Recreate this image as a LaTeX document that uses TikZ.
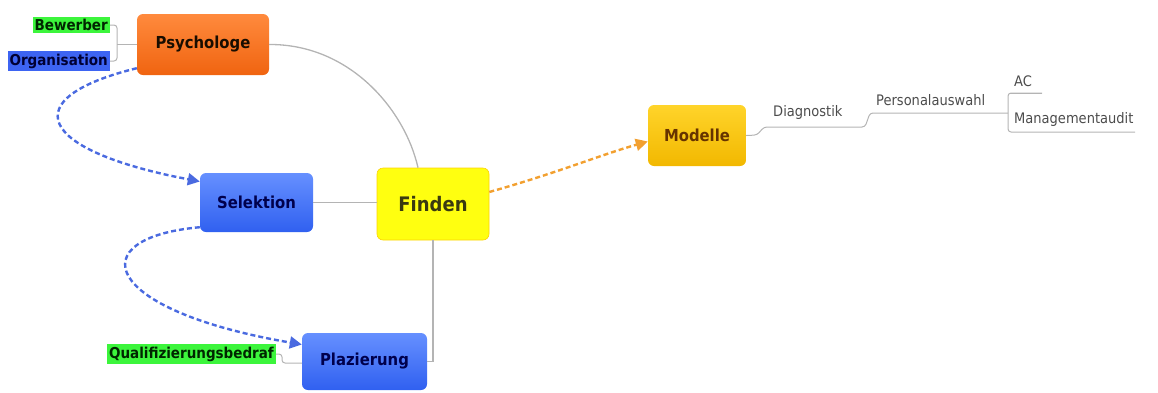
\documentclass[tikz,border=0pt]{standalone}
\usepackage{fontspec}
\setmainfont{DejaVu Sans Condensed}
\usetikzlibrary{arrows.meta}
\definecolor{orTop}{HTML}{FF8A3D}
\definecolor{orBot}{HTML}{F06410}
\definecolor{blTop}{HTML}{6690FF}
\definecolor{blBot}{HTML}{3060F0}
\definecolor{goTop}{HTML}{FFD42A}
\definecolor{goBot}{HTML}{F2B800}
\definecolor{yel}{HTML}{FFFF10}
\definecolor{tagGreen}{HTML}{3CF53C}
\definecolor{tagBlue}{HTML}{3D64F2}
\definecolor{linkGray}{HTML}{B4B4B4}
\definecolor{dashBlue}{HTML}{4A6AE0}
\definecolor{dashOrange}{HTML}{F2A030}
\definecolor{oliveText}{HTML}{3A3A10}
\tikzset{
  topic/.style={rounded corners=6pt, font=\bfseries\fontsize{16.5}{18}\selectfont, align=center, inner sep=0pt},
  orangebox/.style={topic, top color=orTop, bottom color=orBot, text=black!75!orange!40!black},
  bluebox/.style={topic, top color=blTop, bottom color=blBot, text=blue!30!black},
  goldbox/.style={topic, top color=goTop, bottom color=goBot, text=orange!40!black},
  centerbox/.style={topic, fill=yel, draw=yellow!70!orange, line width=0.6pt, font=\bfseries\fontsize{20}{22}\selectfont, text=oliveText},
  greentag/.style={fill=tagGreen, inner xsep=2pt, inner ysep=2.5pt, font=\bfseries\fontsize{15}{17}\selectfont, text=green!15!black},
  bluetag/.style={fill=tagBlue, inner xsep=2pt, inner ysep=2.5pt, font=\bfseries\fontsize{15}{17}\selectfont, text=blue!20!black},
  plain/.style={inner sep=1pt, font=\fontsize{14.5}{16}\selectfont, text=black!70},
  link/.style={draw=linkGray, line width=1.3pt},
  sublink/.style={draw=linkGray, line width=1pt, rounded corners=3pt},
  flow/.style={line width=2.4pt, dash pattern=on 5pt off 3pt, -{Triangle[length=12pt,width=12pt]}},
}
\begin{document}
\begin{tikzpicture}[x=1pt,y=-1pt]
\useasboundingbox (0,0) rectangle (1158,392);

% main topics
\node[orangebox, minimum width=132pt, minimum height=61pt] (psy) at (203,44.5) {Psychologe};
\node[bluebox, minimum width=113pt, minimum height=59pt] (sel) at (256.5,202.5) {Selektion};
\node[centerbox, minimum width=112pt, minimum height=72pt] (fin) at (433,204) {Finden};
\node[bluebox, minimum width=125pt, minimum height=57pt] (plz) at (364.5,361.5) {Plazierung};
\node[goldbox, minimum width=98pt, minimum height=61pt] (mod) at (697,135.5) {Modelle};

% tags
\node[greentag, anchor=east] (bew) at (110,25) {Bewerber};
\node[bluetag, anchor=east] (org) at (110,61) {Organisation};
\node[greentag, anchor=east] (qual) at (276,354) {Qualifizierungsbedraf};

% text branches
\node[plain, anchor=south west] (diag) at (772,121) {Diagnostik};
\node[plain, anchor=south west] (pers) at (875,107) {Personalauswahl};
\node[plain, anchor=south west] (ac) at (1013,88) {AC};
\node[plain, anchor=south west] (mgmt) at (1013,128) {Managementaudit};

% links between topics
\draw[link] (psy.east) .. controls (350,44) and (405,110) .. ([xshift=-15pt]fin.north);
\draw[link] (sel.east) -- (sel.east -| fin.west);
\draw[link] (fin.south) |- (plz.east);

% tag brackets
\coordinate (psyfork) at (117,44);
\draw[sublink] (bew.east) -| (psyfork) |- (org.east);
\draw[sublink] (psyfork) -- (psy.west |- psyfork);
\draw[sublink] (qual.east) -| (282,363) -- (plz.west |- 0,363);

% text branch lines
\coordinate (modout) at (mod.east);
\draw[sublink] (modout) -- (757,135) -- (764,127) -- (865,127) -- (870,113) -- (1008,113);
\coordinate (mfork) at (1008,113);
\draw[sublink] (1010,93) -- (1042,93);
\draw[sublink] (1042,93) -| (mfork) |- (1135,132);

% flow arrows
\draw[flow, draw=dashOrange] ([yshift=12pt]fin.east) .. controls (560,172) and (600,155) .. ([yshift=-6pt]mod.west);
\draw[flow, draw=dashBlue] ([yshift=7pt]psy.south west) .. controls (15,98) and (35,150) .. ([yshift=21pt]sel.west);
\draw[flow, draw=dashBlue] ([yshift=5pt]sel.south west) .. controls (80,238) and (100,310) .. ([yshift=17pt]plz.west);
\end{tikzpicture}
\end{document}
